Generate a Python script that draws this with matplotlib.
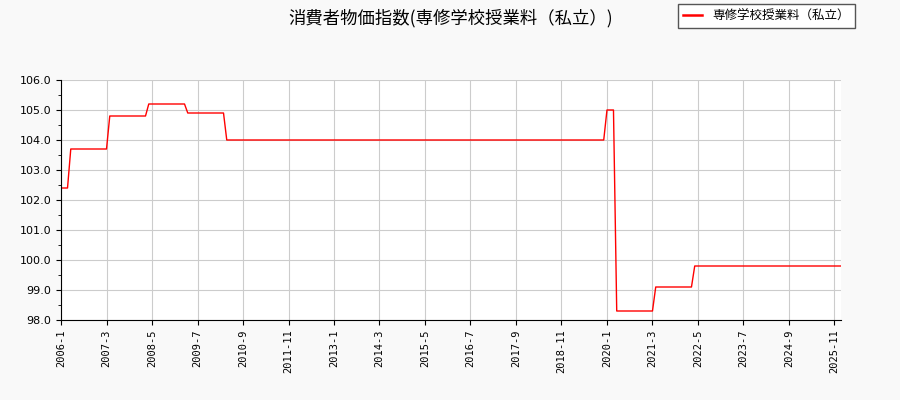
import matplotlib
matplotlib.use("Agg")
import matplotlib.pyplot as plt
from matplotlib.ticker import MultipleLocator
import numpy as np

plt.rcParams['font.family'] = ['Noto Sans CJK JP', 'DejaVu Sans']

#data: CPI level and how many months it stays there, from 2006-1
levels = [102.4, 103.7, 104.8, 105.2, 104.9, 104.0, 105.0, 98.3, 99.1, 99.8]
run_months = [3, 12, 12, 12, 12, 117, 3, 12, 12, 46]
start_year = 2006
start_month = 1
series_name = '専修学校授業料（私立）'
title = '消費者物価指数(専修学校授業料（私立）)'

values = np.repeat(levels, run_months)
n = len(values)
labels = []
for i in range(n):
    y = start_year + (start_month - 1 + i) // 12
    m = (start_month - 1 + i) % 12 + 1
    labels.append(f'{y}-{m}')
x = np.arange(n)

fig = plt.figure(figsize=(9, 4), dpi=100, facecolor='#f9f9f9')
ax = fig.add_axes([0.0678, 0.2, 0.8666, 0.6])
ax.set_facecolor('white')
ax.plot(x, values, color='red', linewidth=1, label=series_name)

ax.set_xlim(0, n - 1)
ax.set_ylim(98, 106)
tick_pos = x[::14]
ax.set_xticks(tick_pos)
ax.set_xticklabels([labels[i] for i in tick_pos], rotation=90,
                   family='DejaVu Sans Mono', fontsize=7.5)
ax.yaxis.set_major_locator(MultipleLocator(1))
ax.yaxis.set_minor_locator(MultipleLocator(0.5))
ax.set_yticklabels([f'{v:.1f}' for v in ax.get_yticks()], family='DejaVu Sans', fontsize=8)
ax.grid(True, color='#cccccc', linewidth=0.8)
ax.set_axisbelow(True)
for s in ['top', 'right']:
    ax.spines[s].set_visible(False)

fig.text(0.501, 0.955, title, ha='center', va='center', fontsize=12.5)
leg = fig.legend(loc='upper right', bbox_to_anchor=(0.95, 0.99), borderaxespad=0,
                 fontsize=9, frameon=True, fancybox=False, edgecolor='#555555',
                 framealpha=1, borderpad=0.45, handlelength=1.5)
for line in leg.get_lines():
    line.set_linewidth(1.8)

plt.savefig('out.png', dpi=100, facecolor=fig.get_facecolor())
